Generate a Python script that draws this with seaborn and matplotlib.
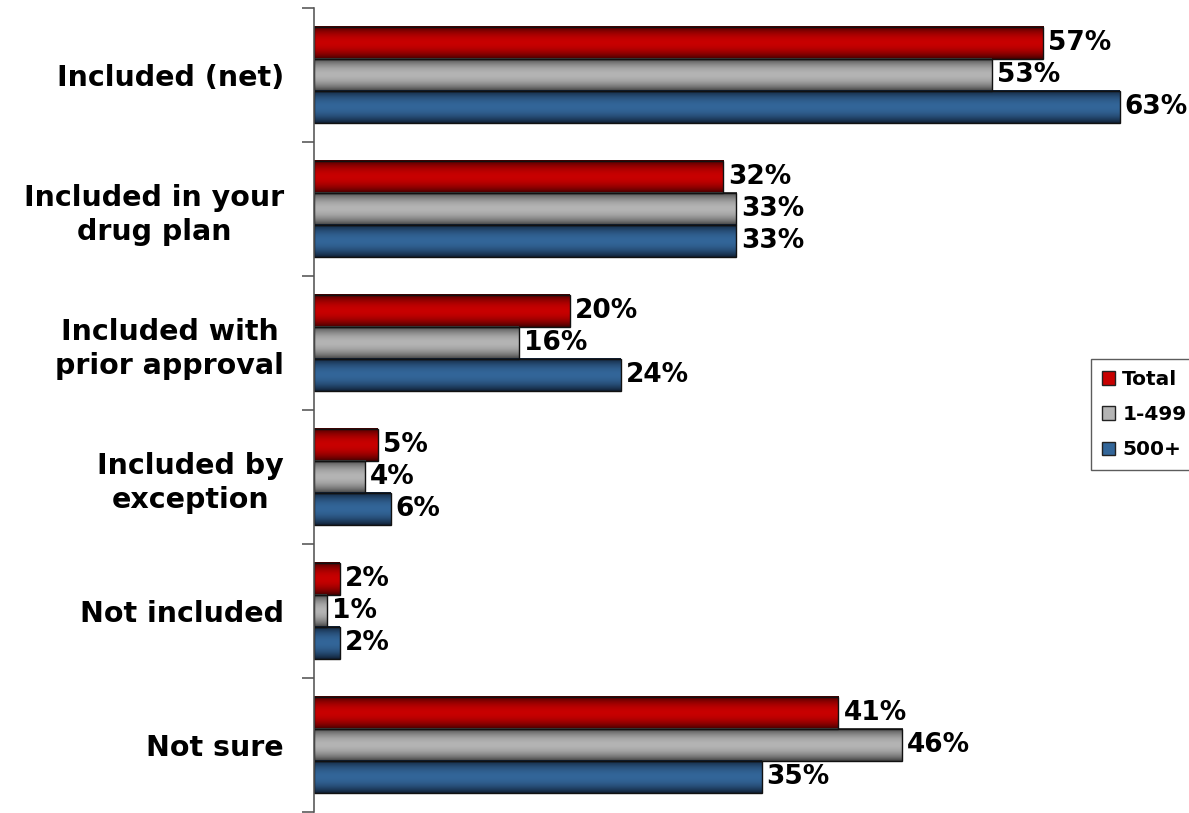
import numpy as np
import pandas as pd
import matplotlib
matplotlib.use("Agg")
import matplotlib.pyplot as plt
from matplotlib.patches import Patch
from matplotlib.colors import to_rgb
import seaborn as sns

# Survey results by company size
categories = [
    "Included (net)",
    "Included in your\ndrug plan",
    "Included with\nprior approval",
    "Included by\nexception",
    "Not included",
    "Not sure",
]
segments = ["Total", "1-499", "500+"]
total_pct = [57, 32, 20, 5, 2, 41]
small_pct = [53, 33, 16, 4, 1, 46]
large_pct = [63, 33, 24, 6, 2, 35]

mid_colors = {"Total": "#c80000", "1-499": "#b4b4b4", "500+": "#336699"}
dark_colors = {"Total": "#3c0000", "1-499": "#3c3c3c", "500+": "#0e1c30"}

df = pd.DataFrame({
    "category": categories * 3,
    "segment": [s for s in segments for _ in categories],
    "value": total_pct + small_pct + large_pct,
})

sns.set_style("white")
plt.rcParams["font.family"] = ["DejaVu Sans"]
plt.rcParams["text.color"] = "black"

PX = 72 / 100  # points per pixel at 100 dpi

fig = plt.figure(figsize=(11.89, 8.13), dpi=100)
ax = fig.add_axes([314 / 1189, 1 - 812 / 813, 875 / 1189, 804 / 813])

sns.barplot(
    data=df, y="category", x="value", hue="segment", orient="h",
    hue_order=segments, palette=mid_colors, width=0.72,
    edgecolor="#111111", linewidth=1.0, ax=ax, legend=False,
)

# Shaded, cylinder-like fill for every bar
prof = np.linspace(0, 1, 96)
shade = np.sin(np.pi * prof) ** 0.8
for container, seg in zip(ax.containers, segments):
    dark = np.array(to_rgb(dark_colors[seg]))
    mid = np.array(to_rgb(mid_colors[seg]))
    grad = dark[None, :] + (mid - dark)[None, :] * shade[:, None]
    grad = grad[:, None, :]
    for bar in container:
        x0, y0 = bar.get_x(), bar.get_y()
        w, h = bar.get_width(), bar.get_height()
        ax.imshow(grad, extent=[x0, x0 + w, y0 + h, y0], aspect="auto",
                  interpolation="bilinear", zorder=bar.get_zorder() - 0.05)
        bar.set_facecolor("none")
    ax.bar_label(container, fmt="{:.0f}%", padding=5 * PX, fontsize=19,
                 fontweight="bold", color="black")

ax.set_xlim(0, 875 / 12.79)
ax.set_ylim(len(categories) - 0.5, -0.5)

# Axes styling: only the left spine with ticks between groups
for side in ["top", "right", "bottom"]:
    ax.spines[side].set_visible(False)
ax.spines["left"].set_color("#555555")
ax.spines["left"].set_linewidth(1.6 * PX)
ax.xaxis.set_visible(False)
ax.set_ylabel("")
ax.set_xlabel("")
ax.set_yticks(np.arange(-0.5, len(categories), 1.0), minor=True)
ax.tick_params(axis="y", which="minor", length=12 * PX, width=1.6 * PX,
               color="#555555", left=True)
ax.tick_params(axis="y", which="major", length=0, pad=30 * PX, labelcolor="black")
for lab in ax.get_yticklabels():
    lab.set_fontsize(20.5)
    lab.set_fontweight("bold")
    lab.set_multialignment("center")
    lab.set_linespacing(1.25)

handles = [Patch(facecolor=mid_colors[s], edgecolor="#222222", linewidth=1.0, label=s)
           for s in segments]
leg = fig.legend(
    handles=handles, loc="upper left",
    bbox_to_anchor=(1091 / 1189, 1 - 359 / 813),
    frameon=True, fancybox=False, edgecolor="#333333",
    prop={"weight": "bold", "size": 14.5},
    handlelength=0.65, handleheight=0.65, handletextpad=0.35,
    labelspacing=0.8, borderpad=0.55, borderaxespad=0,
)
leg.get_frame().set_linewidth(1.0)

fig.savefig("out.png", dpi=100)
